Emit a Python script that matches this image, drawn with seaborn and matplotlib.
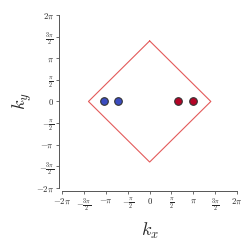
import numpy as np
import seaborn as sns
import matplotlib
matplotlib.use("Agg")
import matplotlib.pyplot as plt

sns.set_style("ticks")
plt.rcParams["mathtext.fontset"] = "cm"
plt.rcParams["font.family"] = ["DejaVu Serif"]

# данные
bz_x = [0, 1.4 * np.pi, 0, -1.4 * np.pi, 0]
bz_y = [1.4 * np.pi, 0, -1.4 * np.pi, 0, 1.4 * np.pi]
blue_kx = [-1.04 * np.pi, -0.72 * np.pi]
red_kx = [0.66 * np.pi, 1.0 * np.pi]
pts_ky = [0, 0]

ticks = np.arange(-2, 2.01, 0.5) * np.pi
tick_labels = [r"$-2\pi$", r"$-\frac{3\pi}{2}$", r"$-\pi$", r"$-\frac{\pi}{2}$", r"$0$",
               r"$\frac{\pi}{2}$", r"$\pi$", r"$\frac{3\pi}{2}$", r"$2\pi$"]

fig = plt.figure(figsize=(2.49, 2.49), dpi=100)
ax = fig.add_axes([0.25, 0.245, 0.702, 0.695])

ax.plot(bz_x, bz_y, color="#e35a5a", lw=0.8)
sns.scatterplot(x=blue_kx, y=pts_ky, color="#3b4cc0", edgecolor="#333333", s=30, linewidth=0.8, ax=ax, zorder=3)
sns.scatterplot(x=red_kx, y=pts_ky, color="#b40426", edgecolor="#333333", s=30, linewidth=0.8, ax=ax, zorder=3)

ax.set_xlim(-2 * np.pi, 2 * np.pi)
ax.set_ylim(-2 * np.pi, 2 * np.pi)
ax.set_xticks(ticks, tick_labels)
ax.set_yticks(ticks, tick_labels)
ax.tick_params(length=2, width=0.6, color="#555555", pad=2, labelsize=6.3)
ax.set_xlabel(r"$k_x$", fontsize=13, labelpad=5)
ax.set_ylabel(r"$k_y$", fontsize=13, labelpad=1)
for s in ["left", "bottom"]:
    ax.spines[s].set_color("#555555")
    ax.spines[s].set_linewidth(0.7)
sns.despine(ax=ax, offset=2)

plt.savefig("out.png", dpi=100)
